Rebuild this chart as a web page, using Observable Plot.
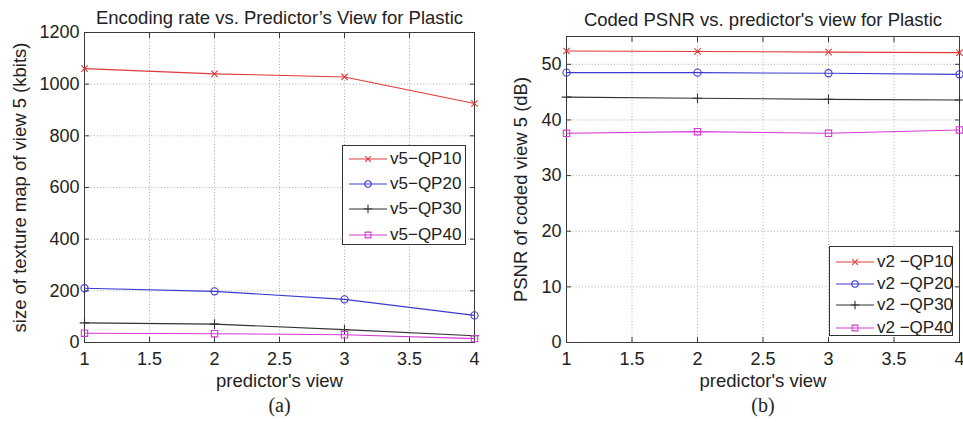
<!DOCTYPE html>
<html>
<head>
<meta charset="utf-8">
<script src="https://cdn.jsdelivr.net/npm/d3@7"></script>
<script src="https://cdn.jsdelivr.net/npm/@observablehq/plot@0.6"></script>
<style>
  body { margin: 0; background: #fff; }
  #fig { position: relative; width: 963px; height: 422px; font-family: "Liberation Sans", Arial, sans-serif; color: #222; }
  .panel { position: absolute; top: 0; }
  .legend { position: absolute; background: #fff; border: 1px solid #333; box-sizing: border-box; }
  .legend .row { position: absolute; left: 0; display: flex; align-items: center; white-space: nowrap; }
  .legend svg { display: block; }
</style>
</head>
<body>
<div id="fig"></div>
<script>
// Predictor's view index (x axis of both panels)
const views = [1, 2, 3, 4];

// (a) size of texture map of view 5, kbits
const rateQP10 = [1060, 1040, 1028, 925];
const rateQP20 = [210, 198, 167, 105];
const rateQP30 = [76, 71, 50, 26];
const rateQP40 = [36, 34, 30, 15];

// (b) PSNR of coded view 5, dB
const psnrQP10 = [52.4, 52.3, 52.2, 52.1];
const psnrQP20 = [48.5, 48.5, 48.4, 48.2];
const psnrQP30 = [44.1, 43.9, 43.7, 43.6];
const psnrQP40 = [37.6, 37.9, 37.6, 38.2];

const xTicks = [1, 1.5, 2, 2.5, 3, 3.5, 4];
const rateTicks = [0, 200, 400, 600, 800, 1000, 1200];
const psnrTicks = [0, 10, 20, 30, 40, 50];

const qpNames = ["QP10", "QP20", "QP30", "QP40"];
const styles = [
  { color: "#e03a3a", symbol: "times", r: 3 },
  { color: "#3a3ad0", symbol: "circle", r: 3.6 },
  { color: "#333333", symbol: "plus", r: 3.2 },
  { color: "#d43ad4", symbol: "square", r: 3.6 }
];

const FONT = "'Liberation Sans', Arial, sans-serif";

function panel({ left, width, marginLeft, marginRight, marginTop, yDomain, yTicks, seriesValues,
                 title, titleDy, ylabel, ylabelDx, caption }) {
  const marks = [
    Plot.gridX(xTicks, { stroke: "#aaa", strokeOpacity: 1, strokeDasharray: "1,2.2" }),
    Plot.gridY(yTicks, { stroke: "#aaa", strokeOpacity: 1, strokeDasharray: "1,2.2" }),
    Plot.frame({ stroke: "#3a3a3a" }),
    // tick labels
    Plot.axisX(xTicks, { anchor: "bottom", tickSize: 0, tickPadding: 10, label: null, fontSize: 18, tickFormat: d => String(d) }),
    Plot.axisY(yTicks, { anchor: "left", tickSize: 0, tickPadding: 5, label: null, fontSize: 18, tickFormat: d => String(d) }),
    // inward ticks on all four sides
    Plot.axisX(xTicks, { anchor: "bottom", tickSize: -5, tickFormat: () => "", label: null, stroke: "#3a3a3a" }),
    Plot.axisX(xTicks, { anchor: "top", tickSize: -5, tickFormat: () => "", label: null, stroke: "#3a3a3a" }),
    Plot.axisY(yTicks, { anchor: "left", tickSize: -5, tickFormat: () => "", label: null, stroke: "#3a3a3a" }),
    Plot.axisY(yTicks, { anchor: "right", tickSize: -5, tickFormat: () => "", label: null, stroke: "#3a3a3a" })
  ];
  seriesValues.forEach((vals, i) => {
    const rows = views.map((v, j) => ({ view: v, value: vals[j] }));
    const s = styles[i];
    marks.push(Plot.line(rows, { x: "view", y: "value", stroke: s.color, strokeWidth: 1.1 }));
    marks.push(Plot.dot(rows, { x: "view", y: "value", stroke: s.color, fill: "none", symbol: s.symbol, r: s.r, strokeWidth: 1.1 }));
  });
  // titles, axis labels and caption
  marks.push(Plot.text([title], { frameAnchor: "top", dy: titleDy, fontSize: 18.5, fill: "#222", lineAnchor: "bottom" }));
  marks.push(Plot.text(["predictor's view"], { frameAnchor: "bottom", dy: 44, fontSize: 18.5, fill: "#222" }));
  marks.push(Plot.text([ylabel], { frameAnchor: "left", textAnchor: "middle", dx: ylabelDx, rotate: -90, fontSize: 18.5, fill: "#222" }));
  marks.push(Plot.text([caption], { frameAnchor: "bottom", dy: 69, fontSize: 20, fill: "#222", fontFamily: "'Liberation Serif', 'Times New Roman', serif" }));

  const svg = Plot.plot({
    width, height: 422,
    marginLeft, marginRight, marginTop, marginBottom: 80,
    x: { domain: [1, 4] },
    y: { domain: yDomain },
    style: { fontFamily: FONT, fontSize: "18px", color: "#222", background: "transparent", overflow: "visible" },
    marks
  });
  svg.classList.add("panel");
  svg.style.left = left + "px";
  return svg;
}

function legend({ left, top, width, height, rowTops, sampleLeft, textGap, prefix, fontSize }) {
  const box = document.createElement("div");
  box.className = "legend";
  Object.assign(box.style, { left: left + "px", top: top + "px", width: width + "px", height: height + "px" });
  qpNames.forEach((name, i) => {
    const s = styles[i];
    const row = document.createElement("div");
    row.className = "row";
    row.style.top = rowTops[i] + "px";
    row.style.left = sampleLeft + "px";
    const sv = d3.create("svg").attr("width", 38).attr("height", 12);
    sv.append("line").attr("x1", 0).attr("x2", 38).attr("y1", 6).attr("y2", 6)
      .attr("stroke", s.color).attr("stroke-width", 1.1);
    const sym = { times: d3.symbolTimes, circle: d3.symbolCircle, plus: d3.symbolPlus, square: d3.symbolSquare }[s.symbol];
    sv.append("path").attr("d", d3.symbol(sym, Math.PI * s.r * s.r * 0.8)())
      .attr("transform", "translate(19,6)").attr("fill", "none")
      .attr("stroke", s.color).attr("stroke-width", 1.1);
    row.appendChild(sv.node());
    const t = document.createElement("span");
    t.textContent = prefix + name;
    t.style.fontSize = fontSize + "px";
    t.style.marginLeft = textGap + "px";
    row.appendChild(t);
    box.appendChild(row);
  });
  return box;
}

const fig = document.getElementById("fig");

fig.appendChild(panel({
  left: 0, width: 481, marginLeft: 84, marginRight: 7, marginTop: 32,
  yDomain: [0, 1200], yTicks: rateTicks,
  seriesValues: [rateQP10, rateQP20, rateQP30, rateQP40],
  title: "Encoding rate vs. Predictor\u2019s View for Plastic", titleDy: -9,
  ylabel: "size of texture map of view 5 (kbits)", ylabelDx: -64, caption: "(a)"
}));

fig.appendChild(panel({
  left: 481, width: 482, marginLeft: 85, marginRight: 4, marginTop: 36,
  yDomain: [0, 55], yTicks: psnrTicks,
  seriesValues: [psnrQP10, psnrQP20, psnrQP30, psnrQP40],
  title: "Coded PSNR vs. predictor's view for Plastic", titleDy: -11,
  ylabel: "PSNR of coded view 5 (dB)", ylabelDx: -45, caption: "(b)"
}));

fig.appendChild(legend({
  left: 342, top: 145, width: 124, height: 100, rowTops: [3, 28, 53, 79],
  sampleLeft: 6, textGap: 3, prefix: "v5\u2212", fontSize: 17
}));

fig.appendChild(legend({
  left: 829, top: 246, width: 124, height: 90, rowTops: [5, 27, 48, 71],
  sampleLeft: 6, textGap: 3, prefix: "v2 \u2212", fontSize: 17
}));
</script>
</body>
</html>
